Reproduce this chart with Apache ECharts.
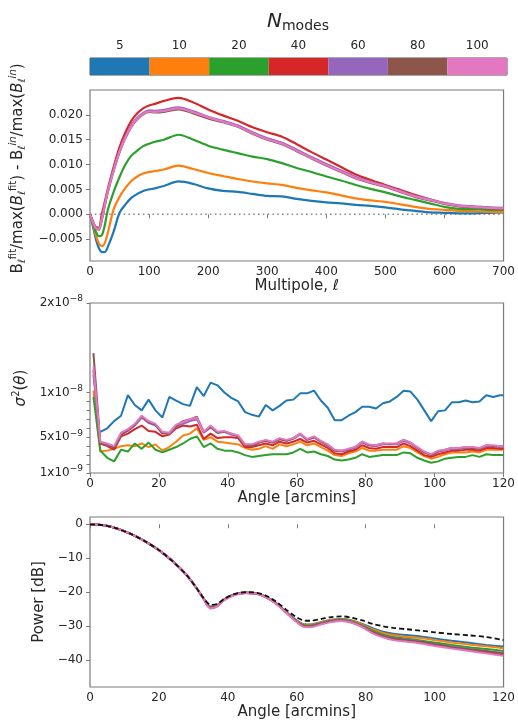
<!DOCTYPE html>
<html>
<head>
<meta charset="utf-8">
<script src="https://cdn.jsdelivr.net/npm/echarts@6/dist/echarts.min.js"></script>
<style>html,body{margin:0;padding:0;background:#fff;}#c{width:518px;height:723px;}</style>
</head>
<body>
<div id="c"></div>
<script>
// ---------- colour bar ----------
const modeLabels = ['5','10','20','40','60','80','100'];
const modeBar = [1,1,1,1,1,1,1];
const palette = ['#1f77b4','#ff7f0e','#2ca02c','#d62728','#9467bd','#8c564b','#e377c2'];

// ---------- top panel: beam residual vs multipole ----------
const ell = [0,5,10,15,20,25,30,40,50,60,70,80,90,100,110,125,150,175,200,225,250,275,300,325,350,375,400,425,450,475,500,525,550,575,600,625,650,675,700];
const top5   = [0,-0.0025,-0.0050,-0.0068,-0.0076,-0.0076,-0.0066,-0.0035,0.0003,0.0020,0.0033,0.0041,0.0047,0.0050,0.0052,0.0057,0.0066,0.0061,0.0052,0.0047,0.0045,0.0041,0.0037,0.0036,0.0031,0.0027,0.0024,0.0022,0.0019,0.0017,0.0014,0.0010,0.0007,0.0004,0.0003,0.0002,0.0002,0.0003,0.0004];
const top10  = [0,-0.0020,-0.0042,-0.0059,-0.0064,-0.0058,-0.0038,0.0010,0.0035,0.0053,0.0067,0.0076,0.0082,0.0085,0.0087,0.0090,0.0098,0.0091,0.0083,0.0077,0.0071,0.0066,0.0062,0.0059,0.0053,0.0048,0.0044,0.0038,0.0032,0.0028,0.0025,0.0020,0.0015,0.0011,0.0009,0.0007,0.0006,0.0005,0.0005];
const top20  = [0,-0.0018,-0.0035,-0.0044,-0.0042,-0.0022,0.0008,0.0045,0.0075,0.0100,0.0118,0.0128,0.0137,0.0142,0.0146,0.0150,0.0160,0.0150,0.0138,0.0130,0.0123,0.0116,0.0111,0.0103,0.0093,0.0085,0.0076,0.0068,0.0059,0.0051,0.0044,0.0036,0.0029,0.0022,0.0015,0.0011,0.0010,0.0009,0.0009];
const top40  = [0,-0.0015,-0.0026,-0.0027,0.0000,0.0025,0.0050,0.0095,0.0135,0.0165,0.0188,0.0203,0.0213,0.0219,0.0222,0.0228,0.0234,0.0225,0.0211,0.0199,0.0188,0.0175,0.0165,0.0156,0.0141,0.0125,0.0110,0.0095,0.0080,0.0069,0.0059,0.0049,0.0039,0.0030,0.0022,0.0017,0.0015,0.0013,0.0012];
const top60  = [0,-0.0015,-0.0027,-0.0029,-0.0009,0.0019,0.0047,0.0090,0.0128,0.0157,0.0179,0.0194,0.0204,0.0209,0.0208,0.0210,0.0215,0.0207,0.0196,0.0188,0.0179,0.0165,0.0153,0.0144,0.0130,0.0115,0.0101,0.0088,0.0075,0.0065,0.0057,0.0047,0.0037,0.0030,0.0023,0.0018,0.0016,0.0014,0.0013];
const top80  = [0,-0.0016,-0.0028,-0.0031,-0.0011,0.0017,0.0044,0.0087,0.0125,0.0154,0.0176,0.0191,0.0201,0.0206,0.0205,0.0206,0.0211,0.0203,0.0193,0.0185,0.0176,0.0162,0.0150,0.0141,0.0127,0.0112,0.0098,0.0085,0.0072,0.0063,0.0055,0.0045,0.0035,0.0028,0.0021,0.0016,0.0014,0.0012,0.0011];
const top100 = [0,-0.0016,-0.0028,-0.0030,-0.0010,0.0018,0.0045,0.0088,0.0126,0.0155,0.0177,0.0192,0.0202,0.0207,0.0206,0.0208,0.0213,0.0205,0.0195,0.0186,0.0177,0.0163,0.0151,0.0142,0.0128,0.0113,0.0099,0.0086,0.0073,0.0064,0.0056,0.0046,0.0036,0.0029,0.0022,0.0017,0.0015,0.0013,0.0012];
const zeroX = [0,700];
const zeroY = [0,0];
const topTicks = [-0.005,0,0.005,0.010,0.015,0.020];

// ---------- middle panel: sigma^2(theta), values in units of 1e-9 ----------
const theta = [1,3,5,7,9,11,13,15,17,19,21,23,25,27,29,31,33,35,37,39,41,43,45,47,49,51,53,55,57,59,61,63,65,67,69,71,73,75,77,79,81,83,85,87,89,91,93,95,97,99,101,103,105,107,109,111,113,115,117,119,120];
const mid5   = [null,5.6,6.0,6.8,7.4,9.7,8.6,8.0,9.2,8.0,7.2,9.5,9.1,8.7,8.5,10.6,9.6,11.1,10.8,10.0,9.4,9.0,7.8,7.5,7.3,8.6,8.0,8.5,9.1,9.2,9.9,9.9,10.2,9.1,8.3,6.9,6.9,7.4,7.8,8.4,8.4,8.2,8.8,9.0,9.5,10.2,10.1,9.2,8.0,6.8,7.9,8.0,8.9,8.9,9.1,8.9,9.0,9.7,9.5,9.7,9.7];
const mid10  = [10.2,3.4,3.5,3.7,4.0,4.1,4.0,4.3,3.9,4.2,3.5,3.9,4.5,5.2,5.4,6.0,4.7,5.0,4.5,4.4,4.3,4.2,3.8,3.6,3.7,4.0,3.7,4.2,4.0,4.2,4.5,4.1,4.3,3.9,3.5,3.0,2.9,3.2,3.4,3.8,3.5,3.5,3.6,3.6,3.6,4.0,3.8,3.3,2.9,2.6,2.8,3.1,3.3,3.3,3.3,3.4,3.3,3.6,3.6,3.6,3.6];
const mid20  = [9.5,3.5,2.7,2.3,3.6,3.4,4.3,3.7,4.4,3.6,3.3,3.6,3.9,4.3,4.8,5.1,3.9,4.3,3.7,3.5,3.5,3.3,3.0,2.8,2.9,3.0,3.1,3.1,3.1,3.3,3.7,3.3,3.4,3.1,2.9,2.5,2.4,2.5,2.7,3.1,2.8,2.9,3.0,3.0,3.0,3.3,3.2,2.7,2.4,2.15,2.3,2.6,2.7,2.8,2.8,3.0,2.8,3.1,3.0,3.0,3.0];
const mid40  = [12.5,4.3,4.0,3.6,5.1,5.4,5.9,6.3,5.7,5.6,5.1,5.3,6.0,6.3,6.2,6.4,4.8,5.4,4.9,5.0,5.0,4.9,3.9,3.9,4.1,4.3,4.1,4.5,4.3,4.5,4.8,4.4,4.6,4.2,3.8,3.2,3.1,3.4,3.6,4.1,3.8,3.7,3.9,3.9,3.9,4.3,4.0,3.5,3.0,2.8,3.1,3.3,3.5,3.5,3.6,3.6,3.5,3.8,3.8,3.7,3.7];
const mid60  = [12.0,4.4,4.1,3.9,5.3,5.7,6.3,7.2,6.6,6.3,5.5,5.4,6.2,6.5,6.8,7.0,5.5,6.1,5.5,5.6,5.3,5.1,4.1,4.1,4.4,4.6,4.4,4.8,4.6,4.8,5.3,4.7,5.0,4.5,4.1,3.5,3.4,3.6,3.8,4.4,4.1,4.0,4.2,4.2,4.2,4.6,4.3,3.8,3.3,3.0,3.4,3.5,3.7,3.7,3.8,3.8,3.7,4.0,4.0,3.9,3.9];
const mid80  = [14.4,4.3,4.2,3.8,5.3,5.8,6.4,7.3,6.7,6.4,5.4,5.5,6.3,6.8,7.0,7.3,5.6,6.2,5.5,5.6,5.4,5.1,4.2,4.0,4.4,4.6,4.4,4.8,4.6,4.9,5.4,4.7,5.0,4.5,4.1,3.5,3.5,3.6,3.9,4.5,4.1,4.1,4.3,4.2,4.3,4.7,4.4,3.8,3.3,3.0,3.4,3.6,3.8,3.7,3.9,3.8,3.7,4.1,4.0,4.0,4.0];
const mid100 = [12.9,4.5,4.3,4.0,5.5,5.9,6.5,7.4,6.8,6.5,5.6,5.5,6.4,6.7,7.0,7.2,5.6,6.3,5.6,5.7,5.4,5.2,4.2,4.2,4.5,4.7,4.5,4.9,4.7,4.9,5.4,4.8,5.1,4.6,4.2,3.6,3.5,3.7,3.9,4.5,4.2,4.1,4.3,4.3,4.3,4.7,4.4,3.9,3.4,3.1,3.5,3.6,3.8,3.8,3.9,3.9,3.8,4.1,4.1,4.0,4.0];
const midTickVals = [1,5,10,20];
const midTickText = [['1x10','−9'],['5x10','−9'],['1x10','−8'],['2x10','−8']];
const midMinorTicks = [1,2,3,4,5,6,7,8,9,10,20];

// ---------- bottom panel: beam power profile ----------
const thetaB = [0,4,8,12,16,20,24,28,31,33,35,37,39,42,45,48,51,54,57,60,62,64,67,70,73,76,79,82,85,88,92,96,100,105,110,115,120];
const powRef = [0,-0.3,-1.3,-2.9,-5.0,-7.6,-10.9,-14.9,-18.9,-21.8,-23.7,-23.4,-21.9,-20.5,-20.0,-20.1,-21.0,-22.8,-25.2,-27.4,-28.3,-28.4,-27.9,-27.3,-27.1,-27.5,-28.3,-29.3,-30.0,-30.5,-30.9,-31.3,-31.8,-32.3,-32.7,-33.2,-34.1];
const pow5   = [0,-0.3,-1.3,-2.9,-5.0,-7.6,-10.9,-14.9,-18.9,-21.9,-24.2,-23.7,-22.1,-20.6,-20.1,-20.3,-21.3,-23.2,-25.9,-28.3,-29.4,-29.5,-28.8,-28.1,-27.9,-28.3,-29.3,-30.6,-31.6,-32.2,-32.6,-33.0,-33.6,-34.3,-34.9,-35.5,-36.0];
const pow10  = [0,-0.3,-1.3,-2.9,-5.0,-7.6,-10.9,-14.9,-18.9,-21.9,-24.3,-23.8,-22.1,-20.6,-20.1,-20.3,-21.3,-23.2,-25.9,-28.4,-29.5,-29.6,-28.9,-28.2,-28.0,-28.4,-29.5,-30.9,-32.0,-32.6,-33.1,-33.5,-34.1,-34.8,-35.4,-35.9,-36.5];
const pow20  = [0,-0.3,-1.3,-2.9,-5.0,-7.6,-10.9,-14.9,-18.9,-21.9,-24.4,-23.8,-22.1,-20.6,-20.1,-20.3,-21.3,-23.2,-25.9,-28.5,-29.7,-29.8,-29.1,-28.4,-28.2,-28.6,-29.8,-31.3,-32.5,-33.2,-33.7,-34.2,-34.8,-35.5,-36.2,-36.7,-37.3];
const pow40  = [0,-0.3,-1.3,-2.9,-5.0,-7.6,-10.9,-14.9,-18.9,-22.0,-24.7,-24.0,-22.2,-20.7,-20.2,-20.4,-21.4,-23.3,-26.0,-28.7,-30.0,-30.1,-29.3,-28.6,-28.4,-28.9,-30.2,-31.9,-33.1,-33.8,-34.3,-34.8,-35.5,-36.3,-37.0,-37.6,-38.3];
const pow60  = [0,-0.3,-1.3,-2.9,-5.0,-7.6,-10.9,-14.9,-18.9,-22.0,-24.6,-24.0,-22.2,-20.7,-20.2,-20.4,-21.4,-23.3,-26.0,-28.6,-29.9,-30.0,-29.2,-28.5,-28.3,-28.8,-30.0,-31.6,-32.8,-33.5,-34.0,-34.5,-35.2,-36.0,-36.7,-37.3,-37.9];
const pow80  = [0,-0.3,-1.3,-2.9,-5.0,-7.6,-10.9,-14.9,-18.9,-22.0,-24.6,-24.0,-22.2,-20.7,-20.2,-20.4,-21.4,-23.3,-26.0,-28.6,-29.9,-30.0,-29.2,-28.5,-28.3,-28.8,-30.1,-31.7,-32.9,-33.6,-34.1,-34.6,-35.3,-36.1,-36.8,-37.4,-38.0];
const pow100 = [0,-0.3,-1.3,-2.9,-5.0,-7.6,-10.9,-14.9,-18.9,-22.0,-24.8,-24.1,-22.3,-20.8,-20.2,-20.4,-21.4,-23.4,-26.1,-28.8,-30.2,-30.3,-29.5,-28.8,-28.5,-29.0,-30.3,-32.1,-33.3,-34.1,-34.6,-35.1,-35.8,-36.6,-37.3,-38.0,-38.7];
const botTicks = [-40,-30,-20,-10,0];

const FF = 'DejaVu Sans';
const TXT = '#262626';
const AX = '#7a7a7a';
const pairs = (xs, ys) => xs.map((x, i) => [x, ys[i]]).filter(p => p[1] !== null);

function lineSeries(xi, yi, xs, ys, color, width, smooth) {
  return {type:'line', xAxisIndex:xi, yAxisIndex:yi, data:pairs(xs, ys), showSymbol:false, symbol:'none',
    smooth:smooth, lineStyle:{color:color, width:width}, itemStyle:{color:color}, animation:false, z:3};
}

const baseX = (gi, min, max, interval, nameRich, name, gap) => ({
  type:'value', gridIndex:gi, min:min, max:max, interval:interval,
  axisLine:{show:false}, splitLine:{show:false},
  axisTick:{show:true, length:4, lineStyle:{color:AX}},
  axisLabel:{fontFamily:FF, fontSize:12, color:TXT, margin:5},
  name:name, nameLocation:'middle', nameGap:gap,
  nameTextStyle:{fontFamily:FF, fontSize:15, color:TXT, rich:nameRich}
});

const supStyle = {fontFamily:FF, fontSize:10, color:TXT, padding:[0,0,9,0]};
const supIStyle = {fontFamily:FF, fontSize:10, color:TXT, fontStyle:'italic', padding:[0,0,9,0]};
const subStyle = {fontFamily:FF, fontSize:10, color:TXT, fontStyle:'italic', padding:[9,0,0,0]};
const rStyle = {fontFamily:FF, fontSize:15, color:TXT};
const iStyle = {fontFamily:FF, fontSize:15, color:TXT, fontStyle:'italic'};

const topSeries = [top5, top10, top20, top40, top60, top80, top100];
const midSeries = [mid5, mid10, mid20, mid40, mid60, mid80, mid100];
const botSeries = [pow5, pow10, pow20, pow40, pow60, pow80, pow100];

const series = [];
series.push({type:'bar', xAxisIndex:0, yAxisIndex:0, barWidth:'100%', barCategoryGap:'0%',
  data: modeBar.map((v, i) => ({value:v, itemStyle:{color:palette[i]}})), animation:false, silent:true});
series.push({type:'line', xAxisIndex:1, yAxisIndex:1, data:pairs(zeroX, zeroY), showSymbol:false, symbol:'none',
  lineStyle:{color:'#8c8c8c', width:1.6, type:[1.6,3.2]}, animation:false, z:2});
topSeries.forEach((s, i) => series.push(lineSeries(1, 1, ell, s, palette[i], 2.2, 0.3)));
midSeries.forEach((s, i) => series.push(lineSeries(2, 2, theta, s, palette[i], 2.0, false)));
botSeries.forEach((s, i) => series.push(lineSeries(3, 3, thetaB, s, palette[i], 2.0, 0.3)));
series.push({type:'line', xAxisIndex:3, yAxisIndex:3, data:pairs(thetaB, powRef), showSymbol:false, symbol:'none',
  smooth:0.3, lineStyle:{color:'#111', width:1.8, type:[5,3]}, animation:false, z:5});

const option = {
  backgroundColor:'#fff',
  animation:false,
  graphic:[{
    type:'text', x:298, y:22,
    style:{text:'{n|N}{s|modes}', align:'center', verticalAlign:'middle',
      rich:{n:{fontFamily:FF, fontSize:20, fontStyle:'italic', fill:TXT},
            s:{fontFamily:FF, fontSize:14, fill:TXT, padding:[8,0,0,0]}}}
  }],
  grid:[
    {left:90, top:58, width:417, height:17, show:true, borderColor:'#555', borderWidth:1, backgroundColor:'transparent'},
    {left:90, top:90, width:416, height:171, show:true, borderColor:AX, borderWidth:1.2, backgroundColor:'transparent'},
    {left:90, top:303, width:416, height:170, show:true, borderColor:AX, borderWidth:1.2, backgroundColor:'transparent'},
    {left:90, top:517, width:416, height:170, show:true, borderColor:AX, borderWidth:1.2, backgroundColor:'transparent'}
  ],
  xAxis:[
    {type:'category', gridIndex:0, position:'top', data:modeLabels, boundaryGap:true,
      axisLine:{show:false}, axisTick:{show:true, alignWithLabel:true, length:4, lineStyle:{color:'#555'}},
      axisLabel:{fontFamily:FF, fontSize:12, color:TXT, margin:6}},
    baseX(1, 0, 700, 100, {r:rStyle, i:iStyle}, '{r|Multipole, }{i|ℓ}', 18),
    baseX(2, 0, 120, 20, {}, 'Angle [arcmins]', 17),
    baseX(3, 0, 120, 20, {}, 'Angle [arcmins]', 17)
  ],
  yAxis:[
    {type:'value', gridIndex:0, min:0, max:1, show:false},
    {type:'value', gridIndex:1, min:-0.0094, max:0.025,
      axisLine:{show:false}, splitLine:{show:false},
      axisTick:{show:true, length:4, lineStyle:{color:AX}, customValues:topTicks},
      axisLabel:{fontFamily:FF, fontSize:12, color:TXT, margin:7, customValues:topTicks,
        formatter:v => (v < -1e-12 ? '−' : '') + Math.abs(v).toFixed(3)},
      name:'{r|B}{sub|ℓ}{sup|fit}{r|/max(}{i|B}{sub|ℓ}{sup|fit}{r|) - B}{sub|ℓ}{supi|in}{r|/max(}{i|B}{sub|ℓ}{supi|in}{r|)}',
      nameLocation:'middle', nameGap:55,
      nameTextStyle:{fontFamily:FF, fontSize:15, color:TXT, padding:[0,0,0,14], rich:{r:rStyle, i:iStyle, sub:subStyle, sup:supStyle, supi:supIStyle}}},
    {type:'value', gridIndex:2, min:1, max:20,
      axisLine:{show:false}, splitLine:{show:false},
      axisTick:{show:true, length:3.5, lineStyle:{color:AX}, customValues:midMinorTicks},
      axisLabel:{fontFamily:FF, fontSize:12, color:TXT, margin:7, customValues:midTickVals,
        formatter:v => { const k = midTickVals.indexOf(v); return k < 0 ? '' : '{b|' + midTickText[k][0] + '}{e|' + midTickText[k][1] + '}'; },
        rich:{b:{fontFamily:FF, fontSize:12, color:TXT}, e:{fontFamily:FF, fontSize:9, color:TXT, padding:[0,0,8,0]}}},
      name:'{i|σ}{s|2}{r|(}{i|θ}{r|)}', nameLocation:'middle', nameGap:56,
      nameTextStyle:{fontFamily:FF, fontSize:15, color:TXT, rich:{r:rStyle, i:iStyle, s:supStyle}}},
    {type:'value', gridIndex:3, min:-47.9, max:2.15,
      axisLine:{show:false}, splitLine:{show:false},
      axisTick:{show:true, length:4, lineStyle:{color:AX}, customValues:botTicks},
      axisLabel:{fontFamily:FF, fontSize:12, color:TXT, margin:7, customValues:botTicks,
        formatter:v => (v < 0 ? '−' : '') + Math.abs(v)},
      name:'Power [dB]', nameLocation:'middle', nameGap:37,
      nameTextStyle:{fontFamily:FF, fontSize:15, color:TXT}}
  ],
  series:series
};

const chart = echarts.init(document.getElementById('c'), null, {renderer:'canvas'});
chart.setOption(option);
</script>
</body>
</html>
